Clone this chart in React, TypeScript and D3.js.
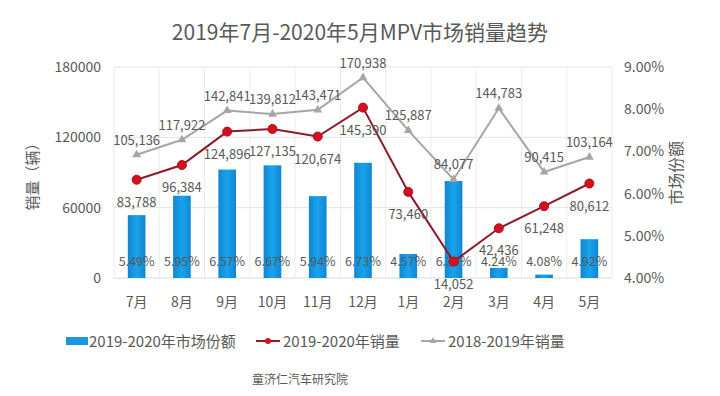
import * as d3 from 'd3';
import React from 'react';

// chart data
const months = ['7月', '8月', '9月', '10月', '11月', '12月', '1月', '2月', '3月', '4月', '5月'];
const share2020 = [5.49, 5.95, 6.57, 6.67, 5.94, 6.73, 4.57, 6.3, 4.24, 4.08, 4.92];
const sales2020 = [83788, 96384, 124896, 127135, 120674, 145390, 73460, 14052, 42436, 61248, 80612];
const sales2019 = [105136, 117922, 142841, 139812, 143471, 170938, 125887, 84077, 144783, 90415, 103164];
const leftTicks = [0, 60000, 120000, 180000];
const rightTicks = [4, 5, 6, 7, 8, 9];

const FONT = '"Noto Sans CJK SC", "Noto Sans", sans-serif';
const TEXT = '#595959';

export default function App() {
  const x = d3.scaleBand<string>().domain(months).range([114, 612]).paddingInner(0);
  const yL = d3.scaleLinear().domain([0, 180000]).range([278, 67]);
  const yR = d3.scaleLinear().domain([4, 9]).range([278, 67]);
  const bw = x.bandwidth() * 0.39;
  const cx = (m: string) => (x(m) as number) + x.bandwidth() / 2;
  const fmt = d3.format(',');

  const line = d3.line<number>()
    .x((d, i) => cx(months[i]))
    .y(d => yL(d));

  const tri = d3.symbol().type(d3.symbolTriangle).size(34);

  return (
    <svg width={720} height={396} style={{ position: 'absolute', left: 0, top: 0, background: '#fff' }} fontFamily={FONT}>
      <defs>
        <linearGradient id="barGrad" x1="0" x2="1" y1="0" y2="0">
          <stop offset="0%" stopColor="#1086d4" />
          <stop offset="50%" stopColor="#1aa3ea" />
          <stop offset="100%" stopColor="#1086d4" />
        </linearGradient>
      </defs>

      <text x={360} y={40} textAnchor="middle" fontSize={21} fill={TEXT}>2019年7月-2020年5月MPV市场销量趋势</text>

      {/* grid */}
      {leftTicks.map(t => (
        <line key={'h' + t} x1={114} x2={612} y1={yL(t)} y2={yL(t)} stroke={t === 0 ? '#d9d9d9' : '#e3e3e3'} />
      ))}
      {months.concat(['end']).map((m, i) => (
        <line key={'v' + i} x1={114 + i * x.step()} x2={114 + i * x.step()} y1={67} y2={278} stroke="#ececec" />
      ))}

      {/* left axis */}
      {leftTicks.map(t => (
        <text key={'l' + t} x={101} y={yL(t) + 5} textAnchor="end" fontSize={14} fill={TEXT}>{t}</text>
      ))}
      {/* right axis */}
      {rightTicks.map(t => (
        <text key={'r' + t} x={624} y={yR(t) + 5} fontSize={14} fill={TEXT}>{t.toFixed(2) + '%'}</text>
      ))}
      <text transform="translate(38,173) rotate(-90)" textAnchor="middle" fontSize={15} fill={TEXT}>销量（辆）</text>
      <text transform="translate(682,173) rotate(-90)" textAnchor="middle" fontSize={16} fill={TEXT}>市场份额</text>

      {/* x labels */}
      {months.map(m => (
        <text key={'x' + m} x={cx(m)} y={307} textAnchor="middle" fontSize={14} fill={TEXT}>{m}</text>
      ))}

      {/* bars */}
      {share2020.map((v, i) => (
        <rect key={'b' + i} x={cx(months[i]) - bw / 2} y={yR(v)} width={bw} height={yR(4) - yR(v)} fill="url(#barGrad)" />
      ))}
      {share2020.map((v, i) => (
        <text key={'bl' + i} x={cx(months[i])} y={266} textAnchor="middle" fontSize={12.5} fill={TEXT}>{v.toFixed(2) + '%'}</text>
      ))}

      {/* 2018-2019 line */}
      <path d={line(sales2019) || ''} fill="none" stroke="#a6a6a6" strokeWidth={2} />
      {sales2019.map((v, i) => (
        <path key={'t' + i} d={tri() || ''} transform={`translate(${cx(months[i])},${yL(v)})`} fill="#a6a6a6" />
      ))}
      {sales2019.map((v, i) => (
        <text key={'tl' + i} x={cx(months[i])} y={yL(v) - 10} textAnchor="middle" fontSize={13} fill={TEXT}>{fmt(v)}</text>
      ))}

      {/* 2019-2020 line */}
      <path d={line(sales2020) || ''} fill="none" stroke="#8b1a2a" strokeWidth={2} />
      {sales2020.map((v, i) => (
        <circle key={'c' + i} cx={cx(months[i])} cy={yL(v)} r={4.5} fill="#d40f1f" stroke="#a8101c" strokeWidth={1} />
      ))}
      {sales2020.map((v, i) => (
        <text key={'cl' + i} x={cx(months[i])} y={yL(v) + 27} textAnchor="middle" fontSize={13} fill={TEXT}>{fmt(v)}</text>
      ))}

      {/* legend */}
      <rect x={66} y={337} width={22} height={8} fill="#1a96dc" />
      <text x={89} y={347} fontSize={15} fill={TEXT}>2019-2020年市场份额</text>
      <line x1={256} x2={280} y1={341} y2={341} stroke="#8b1a2a" strokeWidth={2} />
      <circle cx={268} cy={341} r={3} fill="#d40f1f" />
      <text x={283} y={347} fontSize={15} fill={TEXT}>2019-2020年销量</text>
      <line x1={421} x2={445} y1={341} y2={341} stroke="#a6a6a6" strokeWidth={2} />
      <path d={d3.symbol().type(d3.symbolTriangle).size(20)() || ''} transform="translate(433,341)" fill="#a6a6a6" />
      <text x={448} y={347} fontSize={15} fill={TEXT}>2018-2019年销量</text>

      <text x={300} y={384} textAnchor="middle" fontSize={12} fill={TEXT}>童济仁汽车研究院</text>
    </svg>
  );
}
